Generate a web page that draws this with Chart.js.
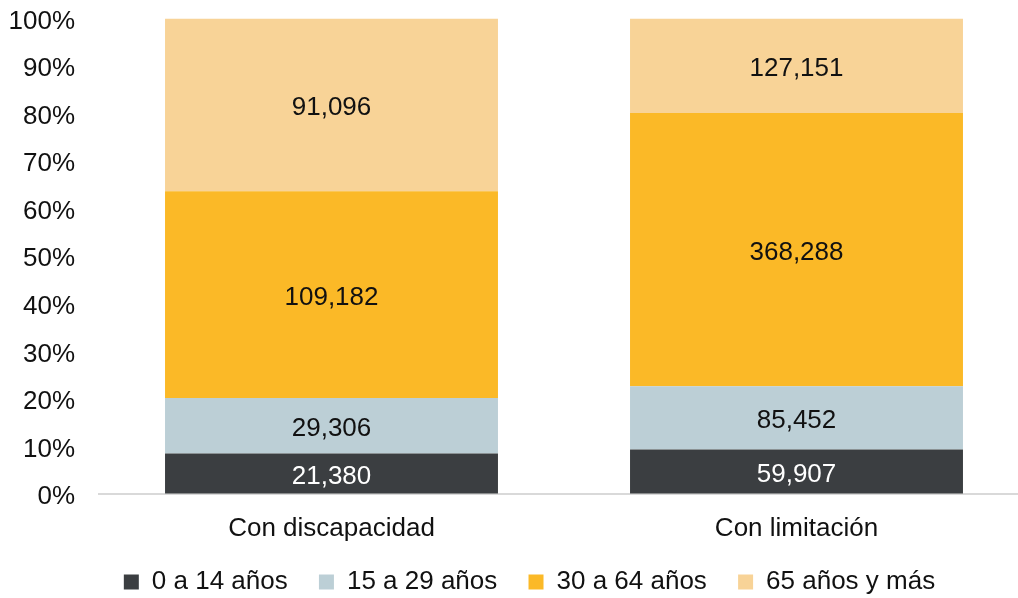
<!DOCTYPE html>
<html>
<head>
<meta charset="utf-8">
<script src="https://cdn.jsdelivr.net/npm/chart.js@4/dist/chart.umd.min.js"></script>
<style>
  html, body { margin: 0; padding: 0; background: #fff; overflow: hidden; }
</style>
</head>
<body>
<canvas id="myChart" width="1032" height="598"></canvas>
<script>
const categories = ['Con discapacidad', 'Con limitación'];
const seriesNames = ['0 a 14 años', '15 a 29 años', '30 a 64 años', '65 años y más'];
const edad0a14 = [21380, 59907];
const edad15a29 = [29306, 85452];
const edad30a64 = [109182, 368288];
const edad65ymas = [91096, 127151];
const yStep = 10; // ticks 0%, 10% ... 100%

const colors = ['#3b3e41', '#bccfd6', '#fbb927', '#f8d397'];
const labelColors = ['#ffffff', '#111111', '#111111', '#111111'];
const allSeries = [edad0a14, edad15a29, edad30a64, edad65ymas];

// totals per category, to turn counts into shares (100% stacked)
const totals = categories.map((c, i) => allSeries.reduce((s, arr) => s + arr[i], 0));

const font = { family: '"Liberation Sans", Arial, sans-serif', size: 26 };

// draws the raw counts in the middle of every segment
const valueLabels = {
    id: 'valueLabels',
    afterDatasetsDraw(chart) {
        const { ctx } = chart;
        ctx.save();
        ctx.font = '26px "Liberation Sans", Arial, sans-serif';
        ctx.textAlign = 'center';
        ctx.textBaseline = 'middle';
        chart.data.datasets.forEach((ds, d) => {
            chart.getDatasetMeta(d).data.forEach((bar, i) => {
                ctx.fillStyle = labelColors[d];
                ctx.fillText(ds.raw[i].toLocaleString('en-US'), bar.x, (bar.y + bar.base) / 2 + 3);
            });
        });
        ctx.restore();
    }
};

// legend sits a bit right of the canvas centre in the original
const shiftLegend = {
    id: 'shiftLegend',
    afterLayout(chart) {
        chart.legend.left += 15;
        chart.legend.right += 15;
    }
};

const ctx = document.getElementById('myChart');
new Chart(ctx, {
    type: 'bar',
    data: {
        labels: categories,
        datasets: seriesNames.map((name, d) => ({
            label: d < seriesNames.length - 1 ? name + ' ' : name,
            raw: allSeries[d],
            data: allSeries[d].map((v, i) => v / totals[i] * 100),
            backgroundColor: colors[d],
            borderWidth: 0,
            categoryPercentage: 1,
            barPercentage: 0.716
        }))
    },
    options: {
        responsive: false,
        animation: false,
        layout: { padding: { left: 0, right: 3, top: 0, bottom: -7 } },
        plugins: {
            legend: {
                position: 'bottom',
                labels: {
                    font: font,
                    color: '#111',
                    boxWidth: 15,
                    boxHeight: 15,
                    padding: 24
                }
            },
            tooltip: { enabled: false }
        },
        scales: {
            x: {
                stacked: true,
                grid: { display: false },
                border: { display: true, color: '#d9d9d9', width: 2 },
                ticks: { font: font, color: '#111', padding: 11 },
                afterFit: (scale) => { scale.height = 51; }
            },
            y: {
                stacked: true,
                min: 0,
                max: 100,
                // invisible tick marks give the gap between labels and bars
                grid: { display: true, drawOnChartArea: false, tickLength: 21, color: 'rgba(0,0,0,0)' },
                border: { display: false },
                ticks: {
                    stepSize: yStep,
                    font: font,
                    color: '#111',
                    padding: 3,
                    labelOffset: 3,
                    callback: (v) => v + '%'
                },
                afterFit: (scale) => { scale.width = 99; }
            }
        }
    },
    plugins: [valueLabels, shiftLegend]
});
</script>
</body>
</html>
